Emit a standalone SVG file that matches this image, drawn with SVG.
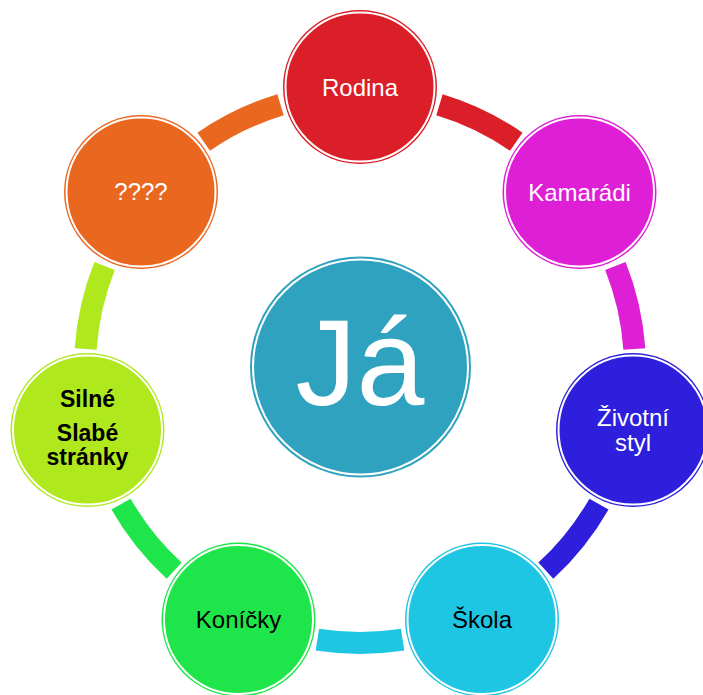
<svg xmlns="http://www.w3.org/2000/svg" width="703" height="695" viewBox="0 0 703 695">
<style>
.band{fill:none;stroke-width:22;stroke-linecap:butt}
.ring{stroke:#fff;stroke-width:2}
.t{font-family:"Liberation Sans",Arial,sans-serif;font-size:24px;text-anchor:middle}
.w{fill:#fff}
.k{fill:#000}
.b{font-weight:bold;font-size:23px}
</style>
<rect width="703" height="695" fill="#fff"/>
<g id="connectors">
<path class="band" stroke="#DA1F28" d="M439.48 104.74 A275 275 0 0 1 516.28 141.72"/>
<path class="band" stroke="#DF1FD6" d="M615.38 266 A275 275 0 0 1 634.35 349.1"/>
<path class="band" stroke="#2D1FDC" d="M598.98 504.07 A275 275 0 0 1 545.83 570.71"/>
<path class="band" stroke="#1EC6E3" d="M402.61 639.68 A275 275 0 0 1 317.38 639.68"/>
<path class="band" stroke="#1EE64A" d="M174.17 570.71 A275 275 0 0 1 121.02 504.07"/>
<path class="band" stroke="#B0E81E" d="M85.65 349.1 A275 275 0 0 1 104.62 266"/>
<path class="band" stroke="#EA6720" d="M203.72 141.72 A275 275 0 0 1 280.52 104.74"/>
</g>
<g id="center">
<circle cx="360.5" cy="367" r="110.5" fill="#2EA2BF"/>
<circle cx="360.5" cy="367" r="107.5" fill="#2EA2BF" class="ring" stroke-width="2.2"/>
<text class="t w" x="360" y="405" style="font-size:122px">Já</text>
</g>
<g id="rodina">
<circle cx="360" cy="87" r="77" fill="#DA1F28"/>
<circle cx="360" cy="87" r="74.5" fill="#DA1F28" class="ring"/>
<text class="t w" x="360" y="95.5">Rodina</text>
</g>
<g id="kamaradi">
<circle cx="579.5" cy="192" r="77" fill="#DF1FD6"/>
<circle cx="579.5" cy="192" r="74.5" fill="#DF1FD6" class="ring"/>
<text class="t w" x="579.5" y="200.5">Kamarádi</text>
</g>
<g id="zivotni-styl">
<circle cx="633" cy="430" r="77" fill="#2D1FDC"/>
<circle cx="633" cy="430" r="74.5" fill="#2D1FDC" class="ring"/>
<text class="t w" x="633" y="425.5">Životní</text>
<text class="t w" x="633" y="450.5">styl</text>
</g>
<g id="skola">
<circle cx="482" cy="619.5" r="77" fill="#1EC6E3"/>
<circle cx="482" cy="619.5" r="74.5" fill="#1EC6E3" class="ring"/>
<text class="t k" x="482" y="628">Škola</text>
</g>
<g id="konicky">
<circle cx="238.5" cy="619.5" r="77" fill="#1EE64A"/>
<circle cx="238.5" cy="619.5" r="74.5" fill="#1EE64A" class="ring"/>
<text class="t k" x="238.5" y="628">Koníčky</text>
</g>
<g id="silne-slabe">
<circle cx="87.5" cy="430" r="77" fill="#B0E81E"/>
<circle cx="87.5" cy="430" r="74.5" fill="#B0E81E" class="ring"/>
<text class="t k b" x="87.5" y="407">Silné</text>
<text class="t k b" x="87.5" y="441">Slabé</text>
<text class="t k b" x="87.5" y="465">stránky</text>
</g>
<g id="otazniky">
<circle cx="141" cy="192" r="77" fill="#EA6720"/>
<circle cx="141" cy="192" r="74.5" fill="#EA6720" class="ring"/>
<text class="t w" x="141" y="200">????</text>
</g>
</svg>
